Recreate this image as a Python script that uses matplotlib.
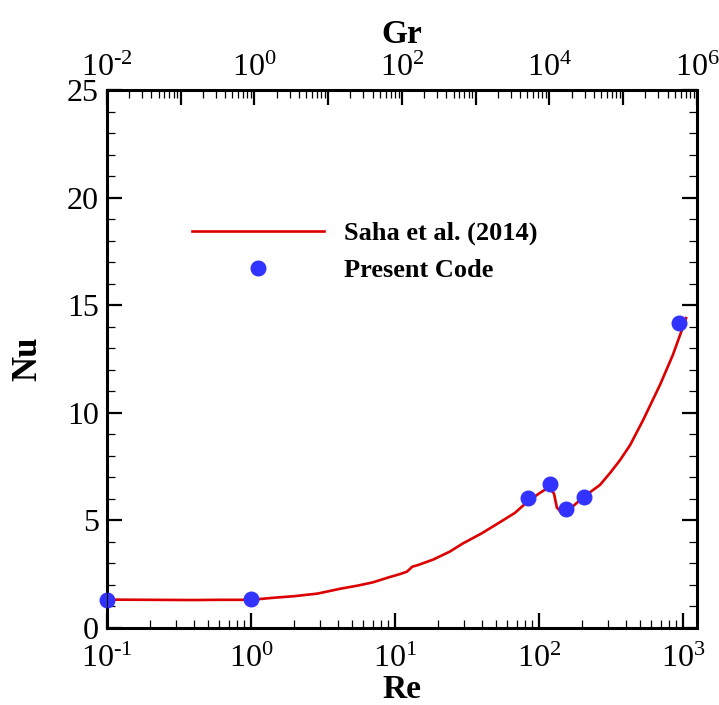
import numpy as np
import matplotlib.pyplot as plt
from matplotlib.ticker import FixedLocator, FuncFormatter, LogLocator, MultipleLocator, NullFormatter

plt.rcParams["font.family"] = "Liberation Serif"
plt.rcParams["mathtext.fontset"] = "custom"
plt.rcParams["mathtext.rm"] = "Liberation Serif"
plt.rcParams["mathtext.default"] = "regular"

# Saha et al. (2014) curve
re_saha = [0.1, 0.2, 0.4, 0.6, 1.0, 1.4, 2.0, 2.9, 4.2, 5.5, 7.0, 9.0, 11.0, 12.1, 13.2,
           14.5, 18.4, 24, 29.6, 40, 53.6, 68, 82.5, 100, 113, 120, 127, 133, 145, 165,
           203, 265, 311, 365, 429, 527, 692, 851, 1000, 1050]
nu_saha = [1.32, 1.31, 1.30, 1.31, 1.31, 1.40, 1.48, 1.60, 1.83, 1.97, 2.12, 2.35, 2.52,
           2.62, 2.85, 2.93, 3.18, 3.55, 3.93, 4.40, 4.92, 5.35, 5.85, 6.25, 6.48, 6.45,
           6.25, 5.60, 5.32, 5.55, 6.08, 6.65, 7.20, 7.80, 8.50, 9.65, 11.3, 12.7, 14.0, 14.4]

# present code
re_code = [0.1, 1.0, 84, 120, 154, 205, 935]
nu_code = [1.30, 1.33, 6.04, 6.69, 5.53, 6.09, 14.17]

red = "#dd0000"
blue = "#3333ff"


def pow10(v, p):
    k = round(np.log10(v))
    if k < 0:
        return r"$10^{\text{-}%d}$" % (-k)
    return r"$10^{%d}$" % k


def pow10_even(v, p):
    k = round(np.log10(v))
    return pow10(v, p) if k % 2 == 0 else ""


fig = plt.figure(figsize=(7.19, 7.05), dpi=100)
ax = fig.add_axes([0.1488, 0.1092, 0.8206, 0.7631])

ax.plot(re_saha, nu_saha, color=red, lw=1.9, label="Saha et al. (2014)")
ax.plot(re_code, nu_code, "o", color=blue, ms=10.5, label="Present Code",
        clip_on=False, zorder=5)

ax.set_xscale("log")
ax.set_xlim(0.1, 1250)
ax.set_ylim(0, 25)
ax.xaxis.set_major_locator(FixedLocator([0.1, 1, 10, 100, 1000]))
ax.xaxis.set_minor_locator(LogLocator(base=10, subs=np.arange(2, 10), numticks=20))
ax.xaxis.set_minor_formatter(NullFormatter())
ax.xaxis.set_major_formatter(FuncFormatter(pow10))
ax.yaxis.set_major_locator(MultipleLocator(5))
ax.yaxis.set_minor_locator(MultipleLocator(1))

ax.tick_params(which="both", direction="in", labelsize=23, top=False, right=True)
ax.tick_params(which="major", length=11, width=1.6)
ax.tick_params(which="minor", length=6, width=0.9)
ax.tick_params(axis="x", pad=12)
ax.tick_params(axis="y", pad=6)
for s in ax.spines.values():
    s.set_linewidth(2.2)

ax.set_xlabel("Re", fontsize=24, fontweight="bold", labelpad=0)
ax.set_ylabel("Nu", fontsize=25, fontweight="bold", labelpad=16)

top = ax.twiny()
top.set_xscale("log")
top.set_xlim(1e-2, 1e6)
gr_ticks = [10.0 ** k for k in range(-2, 7)]
top.xaxis.set_major_locator(FixedLocator(gr_ticks))
top.xaxis.set_minor_locator(LogLocator(base=10, subs=np.arange(2, 10), numticks=20))
top.xaxis.set_minor_formatter(NullFormatter())
top.xaxis.set_major_formatter(FuncFormatter(pow10_even))
top.tick_params(which="both", direction="in", labelsize=23, pad=5)
top.tick_params(which="major", length=11, width=1.6)
top.tick_params(which="minor", length=6, width=0.9)
top.set_xlabel("Gr", fontsize=24, fontweight="bold", labelpad=8)

ax.legend(loc="upper left", bbox_to_anchor=(0.144, 0.756), frameon=False,
          prop={"weight": "bold", "size": 19}, handlelength=5.0, handletextpad=0.75,
          labelspacing=0.5, borderpad=0, borderaxespad=0, numpoints=1)

fig.savefig("out.png", dpi=100)
